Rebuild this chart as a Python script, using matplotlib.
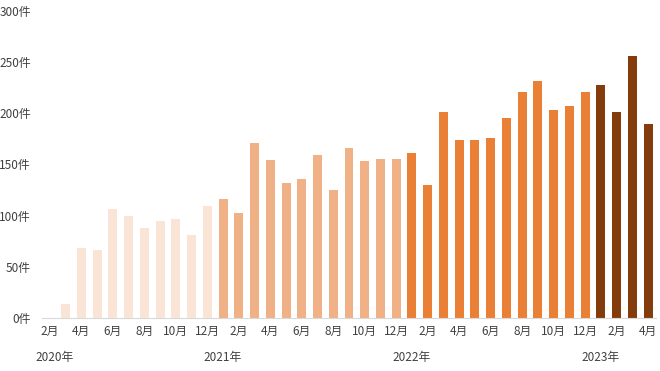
import matplotlib
matplotlib.use("Agg")
import matplotlib.pyplot as plt
from matplotlib.transforms import blended_transform_factory

plt.rcParams['font.family'] = ['Noto Sans CJK JP', 'DejaVu Sans']

# Months from 2020-02 to 2023-04
years = [2020]*11 + [2021]*12 + [2022]*12 + [2023]*4
months = list(range(2, 13)) + list(range(1, 13)) + list(range(1, 13)) + list(range(1, 5))
values = [0, 14, 68, 66, 107, 100, 88, 95, 97, 81, 109,
          116, 103, 171, 154, 132, 136, 159, 125, 166, 153, 155, 155,
          161, 130, 201, 174, 174, 176, 195, 221, 232, 203, 207, 221,
          228, 201, 256, 190]
year_colors = {2020: '#FAE4D5', 2021: '#F1B186', 2022: '#EA7F36', 2023: '#843C0C'}
yticks = [0, 50, 100, 150, 200, 250, 300]

fig = plt.figure(figsize=(6.6, 3.71), dpi=100)
ax = fig.add_axes([42/660, 53/371, 614/660, 307/371])

x = list(range(len(values)))
colors = [year_colors[y] for y in years]
ax.bar(x, values, width=0.57, color=colors, zorder=2)

ax.set_xlim(-0.5, len(values) - 0.5)
ax.set_ylim(0, 300)
ax.set_yticks(yticks)
ax.set_yticklabels([f"{v}件" for v in yticks], fontsize=8.5, color='#404040')

tick_pos = [i for i, m in enumerate(months) if m % 2 == 0]
ax.set_xticks(tick_pos)
ax.set_xticklabels([f"{months[i]}月" for i in tick_pos], fontsize=8.5, color='#404040')
ax.tick_params(axis='both', length=0)
ax.tick_params(axis='y', pad=8)
ax.tick_params(axis='x', pad=5)

for s in ['top', 'right', 'left']:
    ax.spines[s].set_visible(False)
ax.spines['bottom'].set_color('#D9D9D9')
ax.spines['bottom'].set_linewidth(0.8)

trans = blended_transform_factory(ax.transData, fig.transFigure)
seen = set()
for i, (y, m) in enumerate(zip(years, months)):
    if y not in seen:
        seen.add(y)
        xpos = i + (0.3 if i == 0 else 0)
        ax.text(xpos, (371 - 357) / 371, f"{y}年", transform=trans,
                ha='center', va='center', fontsize=8.5, color='#404040')

fig.savefig("out.png", dpi=100)
